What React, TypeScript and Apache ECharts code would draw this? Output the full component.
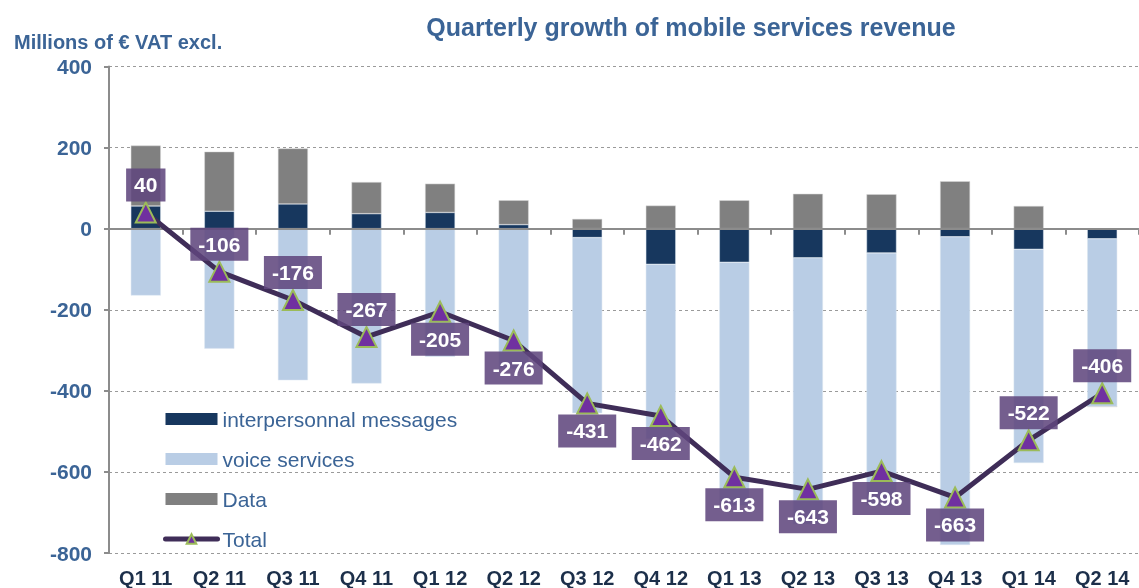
import React, { useEffect, useRef } from "react";
import * as echarts from "echarts";

const categories = ["Q1 11", "Q2 11", "Q3 11", "Q4 11", "Q1 12", "Q2 12", "Q3 12", "Q4 12", "Q1 13", "Q2 13", "Q3 13", "Q4 13", "Q1 14", "Q2 14"];
const messages = [56, 43, 61, 37, 40, 10, -22, -88, -83, -72, -60, -20, -51, -25];
const voice = [-165, -296, -374, -382, -316, -346, -433, -431, -600, -657, -623, -760, -527, -414];
const dataSvc = [149, 147, 137, 78, 71, 60, 24, 57, 70, 86, 85, 117, 56, 0];
const total = [40, -106, -176, -267, -205, -276, -431, -462, -613, -643, -598, -663, -522, -406];
const totalLabelSide = ["top", "top", "top", "top", "bottom", "bottom", "bottom", "bottom", "bottom", "bottom", "bottom", "bottom", "top", "top"];

const BLUE_TEXT = "#3b6496";
const FONT = "Liberation Sans, Arial, sans-serif";

export default function App() {
  const ref = useRef<HTMLDivElement>(null);
  useEffect(() => {
    if (!ref.current) return;
    const chart = echarts.init(ref.current, null, { renderer: "svg" });
    chart.setOption({
      animation: false,
      textStyle: { fontFamily: FONT },
      title: [
        {
          text: "Quarterly growth of mobile services revenue",
          left: 686,
          textAlign: "center",
          top: 9,
          textStyle: { fontSize: 25, fontWeight: "bold", color: BLUE_TEXT, fontFamily: FONT },
        },
        {
          text: "Millions of € VAT excl.",
          left: 9,
          top: 27,
          textStyle: { fontSize: 20, fontWeight: "bold", color: BLUE_TEXT, fontFamily: FONT },
        },
      ],
      legend: {
        orient: "vertical",
        left: 163,
        top: 408,
        padding: 0,
        itemWidth: 52,
        itemHeight: 12,
        itemGap: 18,
        textStyle: { fontSize: 21, lineHeight: 22, color: BLUE_TEXT, fontFamily: FONT },
        data: [
          { name: "interpersonnal messages", icon: "rect", itemStyle: { borderWidth: 0 } },
          { name: "voice services", icon: "rect", itemStyle: { borderWidth: 0 } },
          { name: "Data", icon: "rect", itemStyle: { borderWidth: 0 } },
          { name: "Total", lineStyle: { width: 5, cap: "round", color: "#3f2d58" } },
        ],
      },
      grid: { left: 109, top: 66.5, width: 1042, height: 488 },
      xAxis: [
        {
          type: "category",
          data: categories,
          axisLine: { onZero: true, lineStyle: { color: "#8c8c8c", width: 2 } },
          axisTick: { show: true, length: 6, lineStyle: { color: "#8c8c8c", width: 2 } },
          axisLabel: { show: false },
          splitLine: { show: false },
          z: 5,
        },
        {
          type: "category",
          data: categories,
          position: "bottom",
          axisLine: { show: false, onZero: false },
          axisTick: { show: false },
          axisLabel: { fontSize: 20, fontWeight: "bold", color: "#1c2f4a", margin: 15, fontFamily: FONT },
        },
      ],
      yAxis: {
        type: "value",
        min: -800,
        max: 400,
        interval: 200,
        axisLine: { show: true, lineStyle: { color: "#8c8c8c", width: 2 } },
        axisTick: { show: true, length: 5, lineStyle: { color: "#8c8c8c", width: 2 } },
        axisLabel: { fontSize: 21, fontWeight: "bold", color: BLUE_TEXT, margin: 17, fontFamily: FONT },
        splitLine: { show: true, lineStyle: { color: "#9a9a9a", type: [3, 3], width: 1 } },
      },
      series: [
        {
          name: "interpersonnal messages",
          type: "bar",
          stack: "s",
          data: messages,
          barWidth: 30,
          itemStyle: { color: "#17375e", borderColor: "#dce6f0", borderWidth: 0.5 },
        },
        {
          name: "voice services",
          type: "bar",
          stack: "s",
          data: voice,
          barWidth: 30,
          itemStyle: { color: "#b9cde5", borderColor: "#dce6f0", borderWidth: 0.5 },
        },
        {
          name: "Data",
          type: "bar",
          stack: "s",
          data: dataSvc,
          barWidth: 30,
          itemStyle: { color: "#808080", borderColor: "#d9d9d9", borderWidth: 0.5 },
        },
        {
          name: "Total",
          type: "line",
          data: total.map((v, i) => ({ value: v, label: { position: totalLabelSide[i] } })),
          z: 10,
          symbol: "triangle",
          symbolSize: 20,
          lineStyle: { color: "#3f2d58", width: 5 },
          itemStyle: { color: "#7030a0", borderColor: "#9bbb59", borderWidth: 2 },
          label: {
            show: true,
            distance: 0,
            fontSize: 21,
            fontWeight: "bold",
            color: "#ffffff",
            backgroundColor: "rgba(95,70,125,0.87)",
            padding: [5, 8, 5, 8],
            lineHeight: 23,
            fontFamily: FONT,
          },
        },
      ],
    });
    return () => chart.dispose();
  }, []);
  return <div ref={ref} style={{ position: "fixed", left: 0, top: 0, width: 1139, height: 588 }} />;
}
